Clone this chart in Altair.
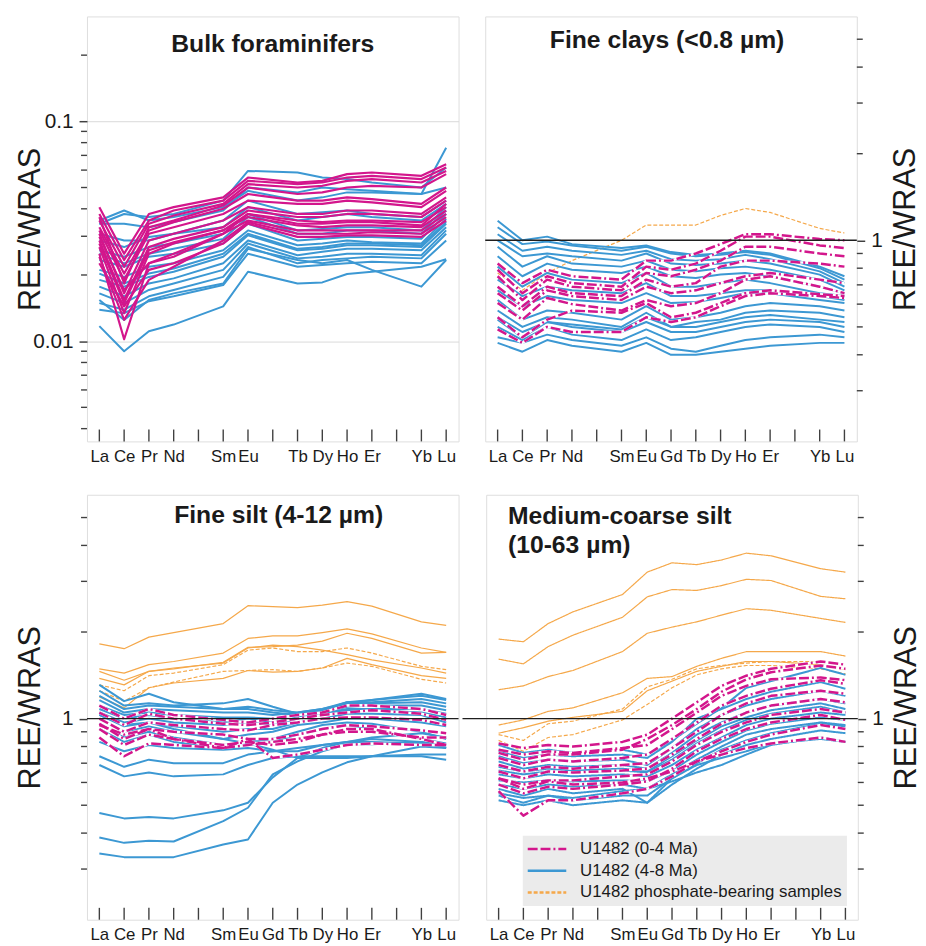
import json
import altair as alt
import pandas as pd

# ---------------- categories / labels ----------------
ELEMENTS = ["La", "Ce", "Pr", "Nd", "Pm", "Sm", "Eu", "Gd", "Tb", "Dy", "Ho", "Er", "Tm", "Yb", "Lu"]
REE_BULK = ["La", "Ce", "Pr", "Nd", "Sm", "Eu", "Tb", "Dy", "Ho", "Er", "Yb", "Lu"]
REE_SIZE = ["La", "Ce", "Pr", "Nd", "Sm", "Eu", "Gd", "Tb", "Dy", "Ho", "Er", "Yb", "Lu"]

GROUPS = ["U1482 (0-4 Ma)", "U1482 (4-8 Ma)", "U1482 phosphate-bearing samples"]
COLORS = ["#d3168c", "#3c98d3", "#f5a84a"]

TITLES = ["Bulk foraminifers", "Fine clays (<0.8 µm)", "Fine silt (4-12 µm)",
          "Medium-coarse silt\n(10-63 µm)"]
Y_TITLE = "REE/WRAS"

BULK_Y_DOMAIN = [0.0035, 0.3]
SIZE_Y_DOMAIN = [0.2, 6.0]
BULK_Y_LABELS = [0.01, 0.1]
BULK_Y_MINOR = [0.004, 0.005, 0.006, 0.007, 0.008, 0.009,
                0.02, 0.03, 0.04, 0.05, 0.06, 0.07, 0.08, 0.09, 0.2]
SIZE_Y_LABELS = [1]
SIZE_Y_MINOR = [0.3, 0.4, 0.5, 0.6, 0.7, 0.8, 0.9, 2, 3, 4, 5]
REFERENCE_LEVEL = [1.0]

# ---------------- Bulk foraminifers (La..Lu, no Gd) ----------------
bulk_blue = [
    [0.0117, 0.0090, 0.0111, 0.0119, 0.0144, 0.0207, 0.0183, 0.0185, 0.0202, 0.0207, 0.0218, 0.0236],
    [0.0154, 0.0125, 0.0154, 0.0165, 0.0183, 0.0263, 0.0234, 0.0226, 0.0234, 0.0211, 0.0177, 0.0234],
    [0.0139, 0.0134, 0.0152, 0.0160, 0.0180, 0.0250, 0.0218, 0.0222, 0.0226, 0.0230, 0.0226, 0.0287],
    [0.0149, 0.0139, 0.0160, 0.0171, 0.0196, 0.0268, 0.0226, 0.0234, 0.0238, 0.0242, 0.0238, 0.0308],
    [0.0165, 0.0149, 0.0171, 0.0183, 0.0211, 0.0278, 0.0238, 0.0242, 0.0250, 0.0250, 0.0246, 0.0319],
    [0.0177, 0.0160, 0.0183, 0.0193, 0.0226, 0.0287, 0.0246, 0.0255, 0.0263, 0.0263, 0.0259, 0.0330],
    [0.0190, 0.0177, 0.0196, 0.0207, 0.0242, 0.0303, 0.0259, 0.0263, 0.0273, 0.0273, 0.0268, 0.0342],
    [0.0203, 0.0183, 0.0203, 0.0214, 0.0250, 0.0308, 0.0263, 0.0268, 0.0278, 0.0278, 0.0273, 0.0348],
    [0.0211, 0.0196, 0.0218, 0.0226, 0.0259, 0.0319, 0.0273, 0.0278, 0.0287, 0.0282, 0.0278, 0.0360],
    [0.0234, 0.0218, 0.0242, 0.0250, 0.0278, 0.0342, 0.0287, 0.0292, 0.0298, 0.0298, 0.0292, 0.0379],
    [0.0250, 0.0226, 0.0250, 0.0263, 0.0292, 0.0367, 0.0308, 0.0308, 0.0319, 0.0319, 0.0308, 0.0393],
    [0.0259, 0.0242, 0.0268, 0.0278, 0.0308, 0.0379, 0.0319, 0.0324, 0.0330, 0.0330, 0.0319, 0.0407],
    [0.0287, 0.0268, 0.0298, 0.0308, 0.0330, 0.0407, 0.0354, 0.0367, 0.0379, 0.0367, 0.0354, 0.0421],
    [0.0308, 0.0287, 0.0287, 0.0308, 0.0354, 0.0436, 0.0379, 0.0386, 0.0393, 0.0379, 0.0367, 0.0436],
    [0.0342, 0.0342, 0.0330, 0.0348, 0.0393, 0.0500, 0.0475, 0.0500, 0.0491, 0.0483, 0.0467, 0.0500],
    [0.0342, 0.0379, 0.0367, 0.0379, 0.0436, 0.0595, 0.0585, 0.0555, 0.0546, 0.0527, 0.0500, 0.0616],
    [0.0354, 0.0393, 0.0354, 0.0367, 0.0407, 0.0483, 0.0436, 0.0451, 0.0475, 0.0475, 0.0467, 0.0758],
]
bulk_magenta = [
    [0.0407, 0.0250, 0.0379, 0.0407, 0.0451, 0.0555, 0.0527, 0.0536, 0.0575, 0.0585, 0.0565, 0.0638],
    [0.0379, 0.0234, 0.0354, 0.0393, 0.0436, 0.0536, 0.0518, 0.0527, 0.0555, 0.0565, 0.0546, 0.0616],
    [0.0354, 0.0218, 0.0342, 0.0373, 0.0421, 0.0518, 0.0500, 0.0509, 0.0536, 0.0546, 0.0527, 0.0595],
    [0.0367, 0.0183, 0.0330, 0.0354, 0.0414, 0.0500, 0.0467, 0.0475, 0.0500, 0.0509, 0.0500, 0.0575],
    [0.0330, 0.0203, 0.0319, 0.0348, 0.0400, 0.0467, 0.0436, 0.0436, 0.0451, 0.0443, 0.0421, 0.0500],
    [0.0319, 0.0190, 0.0308, 0.0330, 0.0379, 0.0436, 0.0421, 0.0421, 0.0436, 0.0428, 0.0407, 0.0483],
    [0.0308, 0.0165, 0.0287, 0.0308, 0.0354, 0.0407, 0.0379, 0.0379, 0.0393, 0.0393, 0.0379, 0.0451],
    [0.0287, 0.0154, 0.0268, 0.0292, 0.0330, 0.0393, 0.0367, 0.0367, 0.0379, 0.0379, 0.0367, 0.0436],
    [0.0298, 0.0171, 0.0226, 0.0242, 0.0308, 0.0379, 0.0342, 0.0342, 0.0348, 0.0348, 0.0336, 0.0421],
    [0.0268, 0.0134, 0.0250, 0.0278, 0.0319, 0.0379, 0.0354, 0.0348, 0.0354, 0.0354, 0.0348, 0.0407],
    [0.0278, 0.0149, 0.0259, 0.0282, 0.0319, 0.0367, 0.0336, 0.0330, 0.0336, 0.0336, 0.0330, 0.0393],
    [0.0250, 0.0102, 0.0226, 0.0250, 0.0308, 0.0354, 0.0319, 0.0319, 0.0319, 0.0319, 0.0319, 0.0379],
    [0.0242, 0.0125, 0.0190, 0.0218, 0.0287, 0.0348, 0.0308, 0.0308, 0.0308, 0.0313, 0.0308, 0.0367],
    [0.0226, 0.0144, 0.0211, 0.0226, 0.0278, 0.0342, 0.0298, 0.0298, 0.0303, 0.0303, 0.0298, 0.0354],
]

# ---------------- Fine clays (<0.8 um) ----------------
clay_blue = [
    [1.17, 1.00, 1.03, 0.97, 0.94, 0.96, 0.91, 0.89, 0.90, 0.92, 0.90, 0.81, 0.75],
    [1.11, 0.97, 0.99, 0.96, 0.92, 0.95, 0.90, 0.88, 0.89, 0.91, 0.89, 0.80, 0.73],
    [1.05, 0.92, 0.95, 0.92, 0.89, 0.92, 0.86, 0.85, 0.86, 0.89, 0.86, 0.78, 0.71],
    [1.00, 0.88, 0.90, 0.88, 0.85, 0.90, 0.83, 0.82, 0.83, 0.85, 0.83, 0.76, 0.69],
    [0.95, 0.81, 0.88, 0.83, 0.81, 0.85, 0.79, 0.78, 0.80, 0.81, 0.79, 0.73, 0.67],
    [0.88, 0.75, 0.83, 0.79, 0.77, 0.81, 0.75, 0.74, 0.76, 0.77, 0.75, 0.69, 0.655],
    [0.81, 0.69, 0.77, 0.73, 0.71, 0.77, 0.69, 0.69, 0.71, 0.73, 0.71, 0.655, 0.64],
    [0.73, 0.64, 0.69, 0.67, 0.655, 0.71, 0.64, 0.64, 0.655, 0.67, 0.67, 0.64, 0.62],
    [0.67, 0.59, 0.64, 0.62, 0.605, 0.655, 0.605, 0.61, 0.63, 0.655, 0.655, 0.62, 0.605],
    [0.62, 0.53, 0.57, 0.56, 0.53, 0.59, 0.53, 0.54, 0.56, 0.59, 0.605, 0.59, 0.57],
    [0.57, 0.50, 0.54, 0.53, 0.50, 0.56, 0.50, 0.52, 0.53, 0.56, 0.57, 0.56, 0.54],
    [0.54, 0.48, 0.52, 0.51, 0.49, 0.54, 0.50, 0.50, 0.52, 0.54, 0.55, 0.53, 0.52],
    [0.53, 0.46, 0.52, 0.50, 0.48, 0.52, 0.48, 0.48, 0.50, 0.52, 0.53, 0.52, 0.50],
    [0.50, 0.45, 0.50, 0.47, 0.45, 0.49, 0.45, 0.46, 0.48, 0.50, 0.51, 0.50, 0.48],
    [0.46, 0.44, 0.47, 0.45, 0.43, 0.46, 0.42, 0.41, 0.43, 0.45, 0.46, 0.47, 0.46],
    [0.44, 0.41, 0.45, 0.43, 0.41, 0.44, 0.40, 0.40, 0.41, 0.42, 0.43, 0.44, 0.44],
]
clay_magenta = [
    [0.83, 0.71, 0.79, 0.75, 0.73, 0.85, 0.85, 0.90, 0.97, 1.05, 1.05, 1.01, 1.00],
    [0.79, 0.655, 0.75, 0.71, 0.69, 0.81, 0.79, 0.83, 0.92, 1.03, 1.03, 0.96, 0.94],
    [0.75, 0.62, 0.73, 0.69, 0.67, 0.77, 0.75, 0.79, 0.85, 0.95, 0.95, 0.90, 0.88],
    [0.69, 0.59, 0.69, 0.655, 0.64, 0.73, 0.69, 0.71, 0.81, 0.85, 0.85, 0.83, 0.81],
    [0.655, 0.57, 0.67, 0.64, 0.62, 0.69, 0.655, 0.67, 0.71, 0.75, 0.77, 0.73, 0.71],
    [0.605, 0.53, 0.63, 0.60, 0.57, 0.62, 0.59, 0.605, 0.655, 0.73, 0.75, 0.69, 0.655],
    [0.54, 0.46, 0.53, 0.57, 0.56, 0.605, 0.54, 0.56, 0.605, 0.655, 0.67, 0.65, 0.64],
    [0.49, 0.44, 0.50, 0.48, 0.48, 0.54, 0.52, 0.54, 0.59, 0.64, 0.655, 0.64, 0.63],
]
clay_orange_dash = [
    [0.77, 0.67, 0.77, 0.85, 1.00, 1.13, 1.13, 1.13, 1.22, 1.29, 1.25, 1.10, 1.06],
]

# ---------------- Fine silt (4-12 um) ----------------
fsilt_blue = [
    [1.31, 1.15, 1.22, 1.14, 1.08, 1.08, 1.05, 1.03, 1.07, 1.13, 1.16, 1.22, 1.17],
    [1.25, 1.11, 1.13, 1.11, 1.13, 1.17, 1.10, 1.04, 1.07, 1.14, 1.16, 1.20, 1.16],
    [1.20, 1.08, 1.11, 1.10, 1.08, 1.10, 1.07, 1.05, 1.08, 1.14, 1.14, 1.17, 1.13],
    [1.16, 1.05, 1.08, 1.07, 1.05, 1.05, 1.03, 1.05, 1.08, 1.13, 1.13, 1.14, 1.10],
    [1.11, 1.03, 1.05, 1.03, 1.01, 1.01, 1.00, 1.03, 1.05, 1.10, 1.11, 1.11, 1.07],
    [1.08, 1.00, 1.03, 1.00, 0.97, 1.00, 0.97, 1.01, 1.04, 1.08, 1.08, 1.08, 1.04],
    [1.05, 0.97, 1.00, 0.97, 0.95, 0.97, 0.95, 1.00, 1.03, 1.07, 1.07, 1.05, 1.01],
    [1.03, 0.94, 0.97, 0.94, 0.90, 0.92, 0.92, 0.97, 1.00, 1.04, 1.04, 1.03, 0.97],
    [1.00, 0.90, 0.94, 0.90, 0.85, 0.88, 0.90, 0.95, 0.97, 1.00, 1.00, 0.97, 0.94],
    [0.96, 0.86, 0.90, 0.86, 0.81, 0.83, 0.85, 0.90, 0.95, 0.97, 0.96, 0.90, 0.85],
    [0.92, 0.83, 0.88, 0.83, 0.79, 0.81, 0.83, 0.88, 0.92, 0.95, 0.92, 0.85, 0.82],
    [0.83, 0.77, 0.81, 0.79, 0.78, 0.79, 0.77, 0.77, 0.81, 0.83, 0.85, 0.83, 0.81],
    [0.74, 0.68, 0.72, 0.70, 0.70, 0.75, 0.77, 0.79, 0.81, 0.83, 0.83, 0.82, 0.80],
    [0.69, 0.63, 0.65, 0.63, 0.64, 0.69, 0.73, 0.74, 0.74, 0.74, 0.74, 0.74, 0.72],
    [1.03, 0.95, 0.97, 0.92, 0.85, 0.82, 0.78, 0.73, 0.73, 0.73, 0.74, 0.75, 0.75],
    [0.47, 0.45, 0.455, 0.45, 0.48, 0.51, 0.625, 0.73, 0.79, 0.83, 0.86, 0.89, 0.86],
    [0.386, 0.37, 0.376, 0.374, 0.44, 0.49, 0.64, 0.71, 0.77, 0.815, 0.815, 0.83, 0.79],
    [0.34, 0.33, 0.33, 0.33, 0.365, 0.38, 0.51, 0.59, 0.65, 0.705, 0.74, 0.80, 0.79],
]
fsilt_magenta = [
    [1.11, 1.00, 1.08, 1.03, 0.99, 0.97, 1.00, 1.03, 1.05, 1.11, 1.11, 1.08, 1.03],
    [1.05, 0.95, 1.04, 1.00, 0.96, 0.95, 0.97, 1.00, 1.03, 1.05, 1.07, 1.04, 0.99],
    [1.00, 0.90, 0.97, 0.95, 0.92, 0.91, 0.95, 0.97, 1.00, 1.01, 1.01, 0.99, 0.95],
    [0.96, 0.85, 0.92, 0.90, 0.88, 0.85, 0.85, 0.88, 0.92, 0.95, 0.94, 0.91, 0.89],
    [0.92, 0.81, 0.88, 0.85, 0.81, 0.83, 0.81, 0.83, 0.88, 0.90, 0.90, 0.86, 0.86],
    [0.86, 0.74, 0.82, 0.81, 0.79, 0.81, 0.83, 0.85, 0.88, 0.92, 0.92, 0.85, 0.81],
    [0.95, 0.88, 0.92, 0.85, 0.79, 0.85, 0.73, 0.75, 0.78, 0.81, 0.82, 0.81, 0.81],
]
fsilt_orange_solid = [
    [1.82, 1.75, 1.92, 1.99, 2.14, 2.47, 2.45, 2.43, 2.48, 2.55, 2.46, 2.17, 2.11],
    [1.49, 1.44, 1.54, 1.58, 1.69, 1.90, 1.94, 1.94, 1.99, 2.05, 1.97, 1.76, 1.70],
    [1.46, 1.36, 1.46, 1.49, 1.57, 1.77, 1.78, 1.80, 1.86, 1.98, 1.90, 1.69, 1.70],
    [1.38, 1.31, 1.46, 1.50, 1.56, 1.76, 1.80, 1.78, 1.73, 1.67, 1.60, 1.50, 1.44],
    [1.19, 1.09, 1.28, 1.33, 1.38, 1.47, 1.45, 1.46, 1.50, 1.62, 1.54, 1.41, 1.38],
]
fsilt_orange_dash = [
    [1.31, 1.25, 1.41, 1.44, 1.54, 1.73, 1.76, 1.71, 1.71, 1.76, 1.69, 1.52, 1.48],
    [1.25, 1.15, 1.28, 1.34, 1.46, 1.47, 1.48, 1.46, 1.50, 1.56, 1.52, 1.37, 1.33],
]

# ---------------- Medium-coarse silt (10-63 um) ----------------
mcsilt_blue = [
    [0.81, 0.76, 0.78, 0.76, 0.78, 0.75, 0.84, 0.96, 1.09, 1.28, 1.35, 1.50, 1.42],
    [0.77, 0.73, 0.75, 0.74, 0.75, 0.73, 0.83, 1.00, 1.08, 1.17, 1.24, 1.34, 1.27],
    [0.74, 0.70, 0.72, 0.71, 0.72, 0.69, 0.79, 0.92, 1.03, 1.11, 1.17, 1.25, 1.20],
    [0.71, 0.67, 0.69, 0.68, 0.69, 0.67, 0.76, 0.88, 0.97, 1.05, 1.11, 1.17, 1.13],
    [0.68, 0.655, 0.67, 0.66, 0.67, 0.655, 0.74, 0.84, 0.94, 1.01, 1.07, 1.13, 1.08],
    [0.66, 0.64, 0.655, 0.65, 0.66, 0.65, 0.72, 0.82, 0.91, 0.99, 1.04, 1.10, 1.05],
    [0.64, 0.62, 0.64, 0.63, 0.64, 0.63, 0.69, 0.78, 0.86, 0.95, 1.00, 1.05, 1.03],
    [0.61, 0.60, 0.61, 0.605, 0.61, 0.605, 0.66, 0.75, 0.83, 0.91, 0.96, 1.01, 0.99],
    [0.59, 0.57, 0.59, 0.58, 0.59, 0.57, 0.64, 0.72, 0.80, 0.88, 0.92, 0.97, 0.95],
    [0.54, 0.51, 0.54, 0.52, 0.54, 0.54, 0.62, 0.70, 0.78, 0.84, 0.89, 0.96, 0.94],
    [0.52, 0.50, 0.52, 0.50, 0.52, 0.51, 0.59, 0.67, 0.75, 0.81, 0.85, 0.91, 0.89],
    [0.55, 0.53, 0.54, 0.53, 0.56, 0.57, 0.605, 0.65, 0.69, 0.75, 0.81, 0.86, 0.83],
    [0.57, 0.54, 0.57, 0.55, 0.57, 0.51, 0.62, 0.69, 0.73, 0.77, 0.82, 0.85, 0.83],
]
mcsilt_magenta = [
    [0.82, 0.79, 0.81, 0.80, 0.83, 0.88, 1.00, 1.14, 1.30, 1.41, 1.49, 1.58, 1.54],
    [0.76, 0.72, 0.75, 0.75, 0.78, 0.85, 0.95, 1.08, 1.24, 1.37, 1.45, 1.53, 1.49],
    [0.78, 0.75, 0.77, 0.76, 0.79, 0.81, 0.92, 1.05, 1.20, 1.30, 1.37, 1.39, 1.36],
    [0.73, 0.69, 0.72, 0.71, 0.73, 0.75, 0.85, 0.97, 1.11, 1.20, 1.27, 1.36, 1.32],
    [0.69, 0.655, 0.68, 0.67, 0.69, 0.70, 0.79, 0.90, 1.03, 1.13, 1.20, 1.25, 1.22],
    [0.655, 0.62, 0.655, 0.65, 0.66, 0.67, 0.75, 0.85, 0.96, 1.05, 1.11, 1.17, 1.14],
    [0.62, 0.59, 0.61, 0.61, 0.63, 0.64, 0.71, 0.81, 0.90, 0.97, 1.03, 1.08, 1.05],
    [0.59, 0.55, 0.58, 0.57, 0.59, 0.605, 0.67, 0.77, 0.85, 0.92, 0.97, 1.03, 0.99],
    [0.56, 0.46, 0.52, 0.52, 0.55, 0.57, 0.63, 0.71, 0.77, 0.83, 0.88, 0.95, 0.92],
    [0.62, 0.57, 0.605, 0.59, 0.60, 0.62, 0.655, 0.71, 0.75, 0.79, 0.82, 0.86, 0.83],
]
mcsilt_orange_solid = [
    [1.89, 1.85, 2.14, 2.35, 2.70, 3.23, 3.48, 3.43, 3.56, 3.76, 3.68, 3.32, 3.23],
    [1.61, 1.55, 1.78, 1.95, 2.25, 2.65, 2.81, 2.79, 2.90, 3.05, 3.02, 2.66, 2.61],
    [1.26, 1.30, 1.40, 1.47, 1.71, 1.98, 2.08, 2.17, 2.29, 2.41, 2.38, 2.23, 2.16],
    [0.95, 0.99, 1.06, 1.09, 1.23, 1.38, 1.40, 1.52, 1.62, 1.71, 1.71, 1.71, 1.65],
    [0.89, 0.93, 0.98, 1.01, 1.06, 1.25, 1.35, 1.46, 1.52, 1.58, 1.58, 1.54, 1.48],
]
mcsilt_orange_dash = [
    [0.88, 0.84, 0.96, 0.98, 1.08, 1.29, 1.37, 1.49, 1.53, 1.56, 1.58, 1.58, 1.54],
    [0.84, 0.77, 0.86, 0.88, 0.99, 1.12, 1.28, 1.42, 1.49, 1.53, 1.53, 1.49, 1.43],
]

# ---------------- styling ----------------
FONT = "Liberation Sans"
TXT = "#1a1a1a"
FRAME = "#404040"
W, H = 376, 430
MAG_DASH = [10, 3, 10, 3, 2, 3]
ORANGE_DASH = [4, 2]
SOLID = [1, 0]
DASHES = [MAG_DASH, SOLID, ORANGE_DASH]


def lines_df(rows, elems, group, prefix):
    recs = []
    for i, row in enumerate(rows):
        for el, v in zip(elems, row):
            recs.append({"line": f"{prefix}{i}", "group": group,
                         "idx": ELEMENTS.index(el), "value": v})
    return pd.DataFrame(recs)


LABEL_EXPR = json.dumps(ELEMENTS) + "[datum.value]"


def panel(series, elems, ydom, ylabels, yminor, side, title, grid, ref_line,
          title_pos, legend=None, rule_left=0):
    xscale = alt.Scale(domain=[-0.5, 14.5], nice=False, zero=False)
    yscale = alt.Scale(type="log", domain=ydom, nice=False)
    xaxis = alt.Axis(orient="bottom", values=[ELEMENTS.index(e) for e in elems],
                     labelExpr=LABEL_EXPR, ticks=False, tickSize=0, domain=False,
                     grid=False, labelFontSize=17, labelFont=FONT, labelColor=TXT,
                     labelPadding=7, labelOverlap=False, labelFlush=False, title=None)
    title_x = -41 if side == "left" else 65
    yaxis = alt.Axis(orient=side, values=ylabels, format="~g", tickSize=8,
                     tickWidth=1.5, tickColor=FRAME, domain=False, grid=grid,
                     gridColor="#d9d9d9", gridWidth=1, labelFontSize=21,
                     labelFont=FONT, labelColor=TXT, labelPadding=6,
                     labelOverlap=False, title=Y_TITLE, titleFontSize=31,
                     titleFont=FONT, titleFontWeight="normal", titleColor=TXT,
                     titleAngle=270, titleBaseline="bottom", titleAlign="center",
                     titleX=title_x, titleY=H / 2)
    X = alt.X("idx:Q", scale=xscale, axis=xaxis)
    Y = alt.Y("value:Q", scale=yscale, axis=yaxis)
    color = alt.Color("group:N", scale=alt.Scale(domain=GROUPS, range=COLORS),
                      legend=legend)
    dash_enc = alt.StrokeDash("group:N", scale=alt.Scale(domain=GROUPS, range=DASHES),
                              legend=legend)

    layers = []
    if side == "left":
        mx0, mx1 = -6, 0
    else:
        mx0, mx1 = W, W + 6
    layers.append(alt.Chart(pd.DataFrame({"value": yminor})).mark_rule(
        color=FRAME, strokeWidth=1.4).encode(y=Y, x=alt.value(mx0), x2=alt.value(mx1)))
    layers.append(alt.Chart(pd.DataFrame({"idx": list(range(len(ELEMENTS)))})).mark_rule(
        color=FRAME, strokeWidth=1.4).encode(x=X, y=alt.value(H - 12), y2=alt.value(H)))

    for df, width, dash, enc_dash, underlay in series:
        if underlay:
            # white casing so the gaps of the dashed lines stay white
            layers.append(alt.Chart(df).mark_line(
                strokeWidth=width, color="white", strokeJoin="round").encode(
                x=X, y=Y, detail="line:N"))
        kw = {"strokeWidth": width, "strokeJoin": "round"}
        if dash is not None:
            kw["strokeDash"] = dash
        enc = dict(x=X, y=Y, color=color, detail="line:N")
        if enc_dash:
            enc["strokeDash"] = dash_enc
        layers.append(alt.Chart(df).mark_line(**kw).encode(**enc))

    if ref_line:
        layers.append(alt.Chart(pd.DataFrame({"value": REFERENCE_LEVEL})).mark_rule(
            color="#1e1e1e", strokeWidth=1.5).encode(
            y=Y, x=alt.value(rule_left), x2=alt.value(W)))

    tx, ty, talign = title_pos
    layers.append(alt.Chart(pd.DataFrame({"t": [title]})).mark_text(
        font=FONT, fontSize=25, fontWeight="bold", color=TXT, align=talign,
        baseline="middle", lineBreak="\n", lineHeight=29).encode(
        text="t:N", x=alt.value(tx), y=alt.value(ty)))

    return alt.layer(*layers).properties(width=W, height=H)


legend = alt.Legend(
    title=None, orient="none", legendX=37, legendY=345, direction="vertical",
    fillColor="#ebebeb", padding=5, rowPadding=4, labelFont=FONT,
    labelFontSize=17, labelColor=TXT, labelLimit=400, labelOffset=25,
    symbolType="M-3,0H3", symbolSize=169, symbolStrokeWidth=2.4, symbolOffset=11)

G_MAG, G_BLUE, G_OR = GROUPS[0], GROUPS[1], GROUPS[2]

p1 = panel([
    (lines_df(bulk_blue, REE_BULK, G_BLUE, "b"), 2.0, None, False, False),
    (lines_df(bulk_magenta, REE_BULK, G_MAG, "m"), 2.2, None, False, False),
], REE_BULK, BULK_Y_DOMAIN, BULK_Y_LABELS, BULK_Y_MINOR, "left", TITLES[0],
    True, False, (188, 28, "center"))

p2 = panel([
    (lines_df(clay_orange_dash, REE_SIZE, G_OR, "od"), 1.2, ORANGE_DASH, False, False),
    (lines_df(clay_blue, REE_SIZE, G_BLUE, "b"), 2.0, None, False, False),
    (lines_df(clay_magenta, REE_SIZE, G_MAG, "m"), 2.5, MAG_DASH, False, True),
], REE_SIZE, SIZE_Y_DOMAIN, SIZE_Y_LABELS, SIZE_Y_MINOR, "right", TITLES[1],
    False, True, (184, 24, "center"))

p3 = panel([
    (lines_df(fsilt_orange_solid, REE_SIZE, G_OR, "os"), 1.2, None, False, False),
    (lines_df(fsilt_orange_dash, REE_SIZE, G_OR, "od"), 1.2, ORANGE_DASH, False, False),
    (lines_df(fsilt_blue, REE_SIZE, G_BLUE, "b"), 2.0, None, False, False),
    (lines_df(fsilt_magenta, REE_SIZE, G_MAG, "m"), 2.5, MAG_DASH, False, True),
], REE_SIZE, SIZE_Y_DOMAIN, SIZE_Y_LABELS, SIZE_Y_MINOR, "left", TITLES[2],
    False, True, (194, 21, "center"))

p4 = panel([
    (lines_df(mcsilt_orange_solid, REE_SIZE, G_OR, "os"), 1.2, SOLID, False, False),
    (lines_df(mcsilt_orange_dash, REE_SIZE, G_OR, "od"), 1.2, ORANGE_DASH, True, False),
    (lines_df(mcsilt_blue, REE_SIZE, G_BLUE, "b"), 2.0, SOLID, True, False),
    (lines_df(mcsilt_magenta, REE_SIZE, G_MAG, "m"), 2.5, MAG_DASH, True, True),
], REE_SIZE, SIZE_Y_DOMAIN, SIZE_Y_LABELS, SIZE_Y_MINOR, "right", TITLES[3],
    False, True, (22, 22, "left"), legend=legend, rule_left=-24)

RES = dict(color="independent", strokeDash="independent")
top = alt.hconcat(p1, p2, spacing=24).resolve_scale(**RES).resolve_legend(**RES)
bottom = alt.hconcat(p3, p4, spacing=0).resolve_scale(**RES).resolve_legend(**RES)

chart = alt.vconcat(top, bottom, spacing=29).resolve_scale(**RES).resolve_legend(**RES).properties(
    padding={"left": 14, "top": 10, "right": 4, "bottom": 0}
).configure_view(stroke=FRAME, strokeWidth=1.6).configure(background="white")

chart.save("out.html", embed_options={"renderer": "svg", "actions": False})
